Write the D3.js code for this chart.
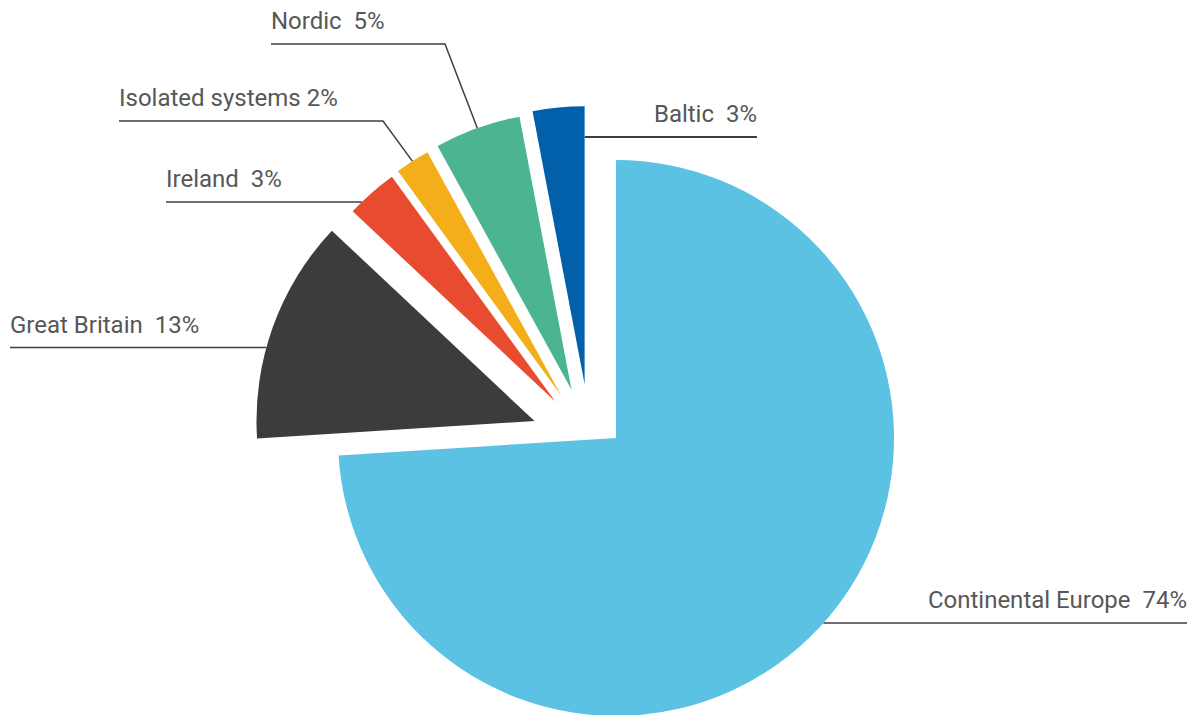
<!DOCTYPE html>
<html>
<head>
<meta charset="utf-8">
<script src="https://cdn.jsdelivr.net/npm/d3@7"></script>
<style>
  html, body { margin: 0; padding: 0; background: #ffffff; }
  svg { display: block; }
  text { font-family: Roboto, "Noto Sans", "DejaVu Sans", sans-serif; }
</style>
</head>
<body>
<svg id="chart" width="1197" height="715"></svg>
<script>
// Share of each synchronous area (percent)
const categories = ["Continental Europe", "Great Britain", "Ireland", "Isolated systems", "Nordic", "Baltic"];
const shares = [74, 13, 3, 2, 5, 3];
const labelTexts = ["Continental Europe  74%", "Great Britain  13%", "Ireland  3%", "Isolated systems 2%", "Nordic  5%", "Baltic  3%"];
const sliceColors = ["#5bc2e3", "#3c3c3b", "#e84b30", "#f4ae19", "#4ab58e", "#0260aa"];

// Layout
const width = 1197, height = 715;
const radius = 278;
const mainCenter = [616, 438];      // the large slice stays in place
const detachedOrigin = [590, 441];  // the smaller slices are pulled out from here
const explode = [0, 59, 52.5, 53.5, 54.5, 57];

// Leader lines: y of the horizontal rule, outer x of the rule, optional elbow x
const leaders = [
  { side: "right", y: 623,   x: 1187, w: 1.5 },
  { side: "left",  y: 347.5, x: 10,   w: 1.5 },
  { side: "left",  y: 202,   x: 166,  w: 1.5 },
  { side: "left",  y: 121,   x: 119,  w: 1.5, elbow: 383 },
  { side: "left",  y: 44,    x: 271,  w: 1.5, elbow: 445 },
  { side: "right", y: 137,   x: 757,  w: 2 }
];

const svg = d3.select("#chart");

const pie = d3.pie().sort(null).value(d => d).startAngle(0).endAngle(2 * Math.PI);
const arcs = pie(shares);
const arcGen = d3.arc().innerRadius(0).outerRadius(radius);

// centre of each slice after pulling it away along its bisector
const centers = arcs.map((a, i) => {
  if (i === 0) return mainCenter;
  const mid = (a.startAngle + a.endAngle) / 2;
  return [detachedOrigin[0] + explode[i] * Math.sin(mid),
          detachedOrigin[1] - explode[i] * Math.cos(mid)];
});

svg.append("g").selectAll("path")
  .data(arcs)
  .join("path")
  .attr("transform", (d, i) => `translate(${centers[i][0]},${centers[i][1]})`)
  .attr("d", arcGen)
  .attr("fill", (d, i) => sliceColors[i]);

// outermost point of a slice along a horizontal line, seen from the label side
function edgeX(a, c, y, side) {
  const xs = [];
  const dy = y - c[1];
  if (Math.abs(dy) <= radius) {
    const h = Math.sqrt(radius * radius - dy * dy);
    [c[0] - h, c[0] + h].forEach(x => {
      let ang = Math.atan2(x - c[0], -(y - c[1]));
      if (ang < 0) ang += 2 * Math.PI;
      if (ang >= a.startAngle - 1e-9 && ang <= a.endAngle + 1e-9) xs.push(x);
    });
  }
  [a.startAngle, a.endAngle].forEach(ang => {
    const cs = Math.cos(ang);
    if (Math.abs(cs) < 1e-9) return;
    const t = (c[1] - y) / cs;
    if (t >= 0 && t <= radius) xs.push(c[0] + Math.sin(ang) * t);
  });
  if (!xs.length) return c[0];
  return side === "left" ? d3.min(xs) : d3.max(xs);
}

const lineGen = d3.line();
const labels = svg.append("g");

leaders.forEach((L, i) => {
  const a = arcs[i], c = centers[i];
  let pts;
  if (L.elbow !== undefined) {
    const mid = (a.startAngle + a.endAngle) / 2;
    const tip = [c[0] + radius * Math.sin(mid), c[1] - radius * Math.cos(mid)];
    pts = [[L.x, L.y], [L.elbow, L.y], tip];
  } else {
    pts = [[L.x, L.y], [edgeX(a, c, L.y, L.side), L.y]];
  }
  labels.append("path")
    .attr("d", lineGen(pts))
    .attr("fill", "none")
    .attr("stroke", "#3f3f3f")
    .attr("stroke-width", L.w);

  labels.append("text")
    .attr("x", L.x)
    .attr("y", Math.round(L.y) - 15.5)
    .attr("text-anchor", L.side === "left" ? "start" : "end")
    .style("white-space", "pre")
    .attr("font-size", 24)
    .attr("fill", "#575757")
    .text(labelTexts[i]);
});
</script>
</body>
</html>
